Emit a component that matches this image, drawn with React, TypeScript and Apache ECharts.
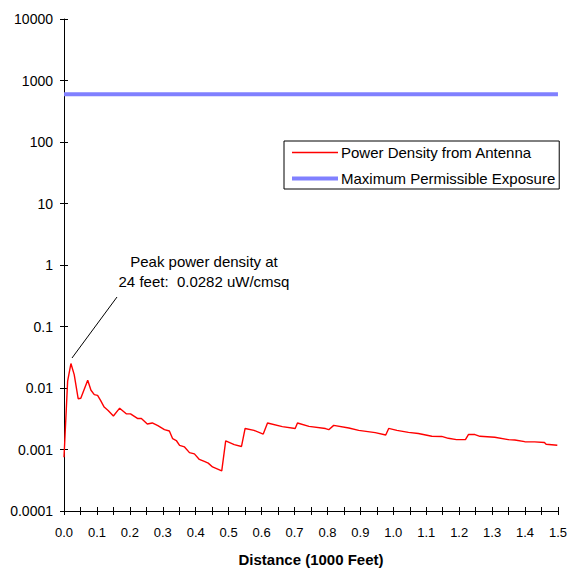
import React, { useEffect, useRef } from "react";
import * as echarts from "echarts";

const distances = [
  0.0, 0.011, 0.021, 0.031, 0.043, 0.051, 0.072, 0.082, 0.092, 0.102, 0.111, 0.122, 0.134, 0.15,
  0.169, 0.189, 0.202, 0.223, 0.235, 0.253, 0.268, 0.285, 0.305, 0.32, 0.33, 0.341, 0.351, 0.366,
  0.381, 0.396, 0.411, 0.426, 0.438, 0.451, 0.479, 0.491, 0.517, 0.539, 0.55, 0.577, 0.605, 0.618,
  0.663, 0.702, 0.709, 0.744, 0.794, 0.804, 0.819, 0.865, 0.895, 0.945, 0.977, 0.986, 1.011, 1.046,
  1.076, 1.117, 1.147, 1.167, 1.192, 1.219, 1.228, 1.248, 1.263, 1.308, 1.349, 1.369, 1.399, 1.429,
  1.459, 1.464, 1.498,
];
const powerDensity = [
  0.00075, 0.0129, 0.025, 0.0165, 0.0067, 0.0068, 0.0134, 0.0092, 0.0078, 0.0076, 0.0063, 0.0049,
  0.0043, 0.0035, 0.0047, 0.0038, 0.0038, 0.0032, 0.0032, 0.0026, 0.0027, 0.00244, 0.0021, 0.002,
  0.0015, 0.0014, 0.00117, 0.0011, 0.00089, 0.00085, 0.00069, 0.00064, 0.0006, 0.00052, 0.00045,
  0.00138, 0.0012, 0.00112, 0.0022, 0.00205, 0.00178, 0.0027, 0.00235, 0.0022, 0.0027, 0.00238,
  0.00219, 0.0021, 0.00247, 0.00224, 0.00205, 0.00188, 0.00172, 0.0022, 0.00205, 0.0019, 0.00182,
  0.00164, 0.00163, 0.00152, 0.00145, 0.00145, 0.00175, 0.00175, 0.00164, 0.00158, 0.00145,
  0.00143, 0.00134, 0.00133, 0.0013, 0.00122, 0.00117,
];
const mpeDistances = [0, 1.5];
const mpeValues = [600, 600];
const yTickLabels = ["0.0001", "0.001", "0.01", "0.1", "1", "10", "100", "1000", "10000"];
const seriesNames = ["Power Density from Antenna", "Maximum Permissible Exposure"];
const annotationLines = ["Peak power density at", "24 feet:  0.0282 uW/cmsq"];

const FONT = "'Liberation Sans', Arial, sans-serif";

export default function App() {
  const ref = useRef<HTMLDivElement>(null);
  useEffect(() => {
    if (!ref.current) return;
    const chart = echarts.init(ref.current, undefined, { renderer: "svg" });
    const xLabel = (v: number) => (Math.round(v * 100) % 10 === 0 ? v.toFixed(1) : "");
    const yLabel = (v: number) => yTickLabels[Math.round(Math.log10(v)) + 4] ?? "";
    const baseX = {
      type: "value",
      min: 0,
      max: 1.5,
      interval: 0.05,
      splitLine: { show: false },
    };
    const baseY = {
      type: "log",
      logBase: 10,
      min: 0.0001,
      max: 10000,
      splitLine: { show: false },
    };
    chart.setOption({
      animation: false,
      backgroundColor: "#fff",
      textStyle: { fontFamily: FONT },
      grid: { left: 64, right: 10, top: 19, bottom: 59, containLabel: false },
      legend: {
        orient: "vertical",
        left: 284,
        top: 141,
        data: [
          { name: seriesNames[0], lineStyle: { color: "#ff0000", width: 1.6 } },
          { name: seriesNames[1], lineStyle: { color: "#8080ff", width: 4 } },
        ],
        backgroundColor: "#fff",
        borderColor: "#000",
        borderWidth: 1,
        borderRadius: 0,
        padding: [4, 4, 3, 6],
        itemWidth: 46,
        itemHeight: 14,
        itemGap: 11,
        itemStyle: { opacity: 0 },
        textStyle: { fontFamily: FONT, fontSize: 15, color: "#000", padding: [0, 0, 0, -2] },
      },
      xAxis: [
        {
          ...baseX,
          name: "Distance (1000 Feet)",
          nameLocation: "middle",
          nameGap: 41,
          nameTextStyle: { fontFamily: FONT, fontSize: 15, fontWeight: "bold", color: "#000" },
          axisLine: { show: true, onZero: false, lineStyle: { color: "#000", width: 1 } },
          axisTick: { show: true, inside: false, length: 4, lineStyle: { color: "#000" } },
          axisLabel: { formatter: xLabel, fontFamily: FONT, fontSize: 13, color: "#000", margin: 15 },
        },
        {
          ...baseX,
          position: "bottom",
          axisLine: { show: false, onZero: false },
          axisTick: { show: true, inside: true, length: 4, lineStyle: { color: "#000" } },
          axisLabel: { show: false },
        },
      ],
      yAxis: [
        {
          ...baseY,
          axisLine: { show: true, onZero: false, lineStyle: { color: "#000", width: 1 } },
          axisTick: { show: true, inside: false, length: 4, lineStyle: { color: "#000" } },
          axisLabel: { formatter: yLabel, fontFamily: FONT, fontSize: 14, color: "#000", margin: 11 },
        },
        {
          ...baseY,
          position: "left",
          axisLine: { show: false, onZero: false },
          axisTick: { show: true, inside: true, length: 4, lineStyle: { color: "#000" } },
          axisLabel: { show: false },
        },
      ],
      series: [
        {
          name: seriesNames[0],
          type: "line",
          xAxisIndex: 0,
          yAxisIndex: 0,
          symbol: "none",
          data: distances.map((d, i) => [d, powerDensity[i]]),
          lineStyle: { color: "#ff0000", width: 1.4 },
          itemStyle: { color: "#ff0000" },
          z: 3,
        },
        {
          name: seriesNames[1],
          type: "line",
          xAxisIndex: 0,
          yAxisIndex: 0,
          symbol: "none",
          data: mpeDistances.map((d, i) => [d, mpeValues[i]]),
          lineStyle: { color: "#8080ff", width: 4 },
          itemStyle: { color: "#8080ff" },
          z: 2,
        },
      ],
      graphic: [
        {
          type: "text",
          x: 204,
          y: 251,
          style: {
            text: annotationLines.join("\n"),
            font: `15px ${FONT}`,
            fill: "#000",
            align: "center",
            verticalAlign: "top",
            lineHeight: 20,
          },
        },
        {
          type: "line",
          shape: { x1: 72, y1: 358, x2: 117, y2: 297 },
          style: { stroke: "#000", lineWidth: 1 },
        },
      ],
    });
    return () => chart.dispose();
  }, []);
  return (
    <div
      ref={ref}
      style={{ position: "fixed", left: 0, top: 0, width: 570, height: 572 }}
    />
  );
}
